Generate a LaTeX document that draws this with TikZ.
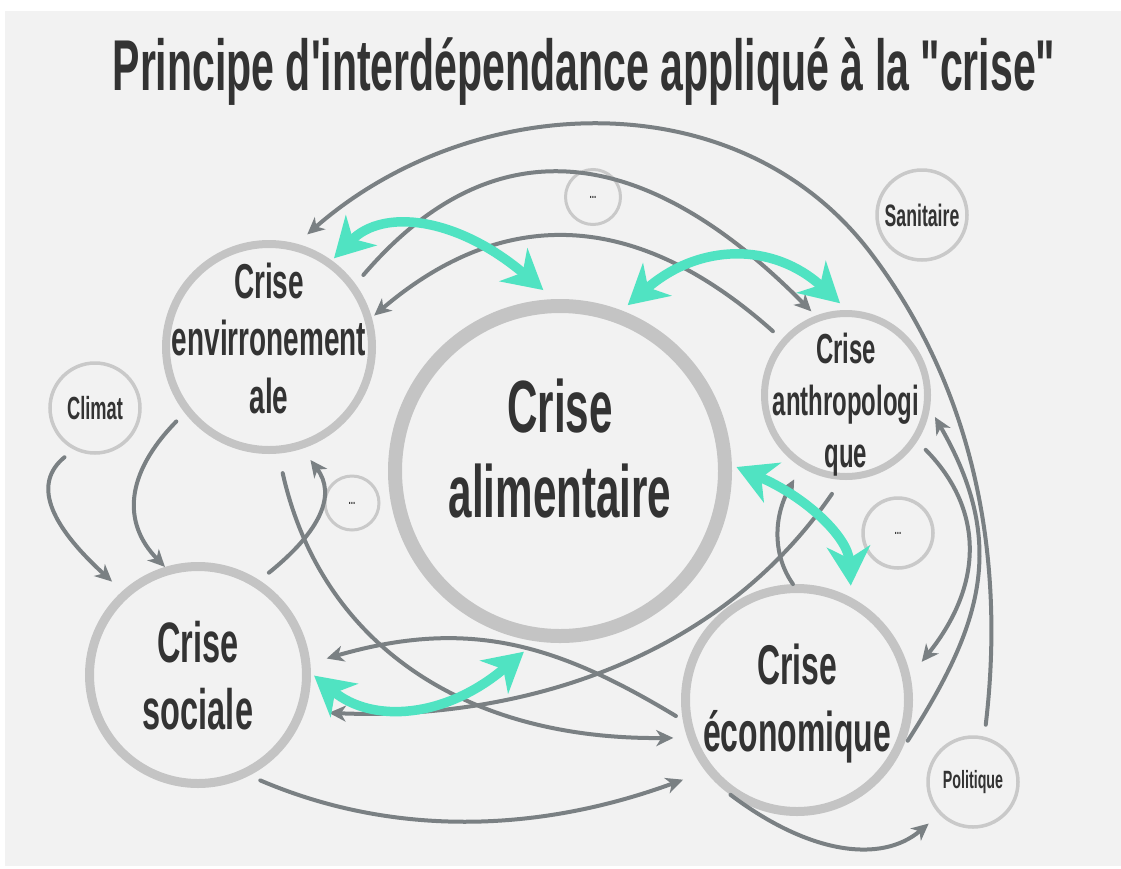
\documentclass[tikz,border=0pt]{standalone}
\usepackage{fontspec}
\newfontfamily\condfont[FakeStretch=0.57, Ligatures=TeXOff]{Liberation Sans}
\usepackage{xcolor}
\usetikzlibrary{arrows.meta}

\definecolor{bggray}{HTML}{F2F2F2}
\definecolor{ringgray}{HTML}{C4C4C4}
\definecolor{lightring}{HTML}{C9C9C9}
\definecolor{linkgray}{HTML}{7A8083}
\definecolor{mint}{HTML}{50E3C2}
\definecolor{inkgray}{HTML}{333333}

\begin{document}
\begin{tikzpicture}[
    x=1pt, y=-1pt,
    ring/.style={
        circle,
        draw=ringgray,
        inner sep=0pt,
        align=center,
        text=inkgray,
        font=\condfont\bfseries
    },
    smallring/.style={
        ring,
        draw=lightring,
        line width=3.5pt,
        minimum size=90pt
    },
    word/.style={
        align=center,
        inner sep=0pt,
        text=inkgray
    },
    link/.style={
        draw=linkgray,
        line width=4pt,
        line cap=round,
        -{Stealth[length=17pt, width=16pt, inset=5pt]},
        shorten <=12pt,
        shorten >=14pt
    },
    twoway/.style={
        draw=mint,
        line width=9.5pt,
        {Stealth[length=39pt, width=43pt, inset=12pt]}-{Stealth[length=39pt, width=43pt, inset=12pt]},
        shorten <=5pt,
        shorten >=12pt
    }
]

% Background
\fill[white] (0,0) rectangle (1121,868);
\fill[bggray] (5,11) rectangle (1121,866);
\useasboundingbox (0,0) rectangle (1121,868);

% Title
\node[word, anchor=base, font=\condfont\bfseries\fontsize{72}{80}\selectfont] (title) at (584,90)
    {Principe d'interdépendance appliqué à la "crise"};

% Nodes
\node[ring, line width=14pt, minimum size=330pt] (alim) at (560,471) {};
\node[ring, line width=8pt, minimum size=206pt] (env) at (269,347) {};
\node[ring, line width=9pt, minimum size=217pt] (soc) at (198,675) {};
\node[ring, line width=9pt, minimum size=223pt] (eco) at (797,700) {};
\node[ring, line width=7pt, minimum size=163pt] (anth) at (846,395) {};

\node[word, font=\condfont\bfseries\fontsize{74}{85}\selectfont] (alim-txt) at ([yshift=22pt]alim.center) {Crise\\alimentaire};
\node[word, font=\condfont\bfseries\fontsize{49}{57.5}\selectfont] (env-txt) at ([yshift=9pt]env.center) {Crise\\envirronement\\ale};
\node[word, font=\condfont\bfseries\fontsize{57}{67}\selectfont] (soc-txt) at ([yshift=-1pt]soc.center) {Crise\\sociale};
\node[word, font=\condfont\bfseries\fontsize{56}{67}\selectfont] (eco-txt) at ([yshift=-4pt]eco.center) {Crise\\économique};
\node[word, font=\condfont\bfseries\fontsize{42}{52}\selectfont] (anth-txt) at ([yshift=-10pt]anth.center) {Crise\\anthropologi\\que};

\node[smallring] (clim) at (95,408) {\fontsize{32}{36}\selectfont Climat};
\node[smallring] (sanit) at (922,215) {\fontsize{31}{35}\selectfont Sanitaire};
\node[smallring] (polit) at (973,782) {\fontsize{25}{28}\selectfont Politique};
\node[smallring, line width=3pt, minimum size=55pt] (dotsT) at (593,197) {\fontsize{14}{16}\selectfont ...};
\node[smallring, line width=3pt, minimum size=54pt] (dotsL) at (352,503) {\fontsize{14}{16}\selectfont ...};
\node[smallring, line width=3.5pt, minimum size=70pt] (dotsR) at (898,533) {\fontsize{14}{16}\selectfont ...};

\coordinate (arcturn) at (870,252);

% Edges
\draw[link] (polit.76) .. controls (1006,554) and (973,387) .. (arcturn)
    .. controls (737,78) and (471,91) .. (env.75);
\draw[link, shorten >=6pt] (env.36) .. controls (490,127) and (640,138) .. (anth.111);
\draw[link, shorten >=3pt] (anth.139) .. controls (636,209) and (504,205) .. (env.16);
\draw[link] (clim.243) .. controls (33,483) and (48,523) .. (soc.132);
\draw[link, shorten >=0pt] (env.218) .. controls (125,474) and (122,523) .. (soc.107);
\draw[link] (soc.57) .. controls (322,530) and (336,494) .. (env.288);
\draw[link, shorten <=20pt] (env.275) .. controls (320,640) and (460,740) .. (eco.199);
\draw[link, shorten <=8pt, shorten >=17pt] (eco.190) .. controls (558,645) and (470,617) .. (soc.6);
\draw[link, shorten <=17pt, shorten >=24pt] (anth.267) .. controls (709,673) and (497,720) .. (soc.341);
\draw[link, shorten >=24pt] (soc.297) .. controls (388,835) and (532,835) .. (eco.218);
\draw[link] (eco.229) .. controls (809,854) and (881,864) .. (polit.224);
\draw[link, shorten <=0pt] (eco.92) .. controls (773,556) and (773,518) .. (anth.238);
\draw[link, shorten >=10pt] (eco.334) .. controls (982,625) and (1008,544) .. (anth.351);
\draw[link, shorten >=18pt] (anth.327) .. controls (984,509) and (984,584) .. (eco.12);

% Two-way links to the central crisis
\draw[twoway, shorten <=3pt, shorten >=14pt] (env.54) .. controls (383,208) and (457,217) .. (alim.92);
\draw[twoway, shorten <=8pt, shorten >=10pt] (alim.69) .. controls (699,243) and (773,242) .. (anth.89);
\draw[twoway, shorten <=5pt, shorten >=12pt] (alim.2) .. controls (808,498) and (848,538) .. (eco.62);
\draw[twoway, shorten <=4pt, shorten >=16pt] (soc.1) .. controls (373,724) and (446,718) .. (alim.262);

\end{tikzpicture}
\end{document}
